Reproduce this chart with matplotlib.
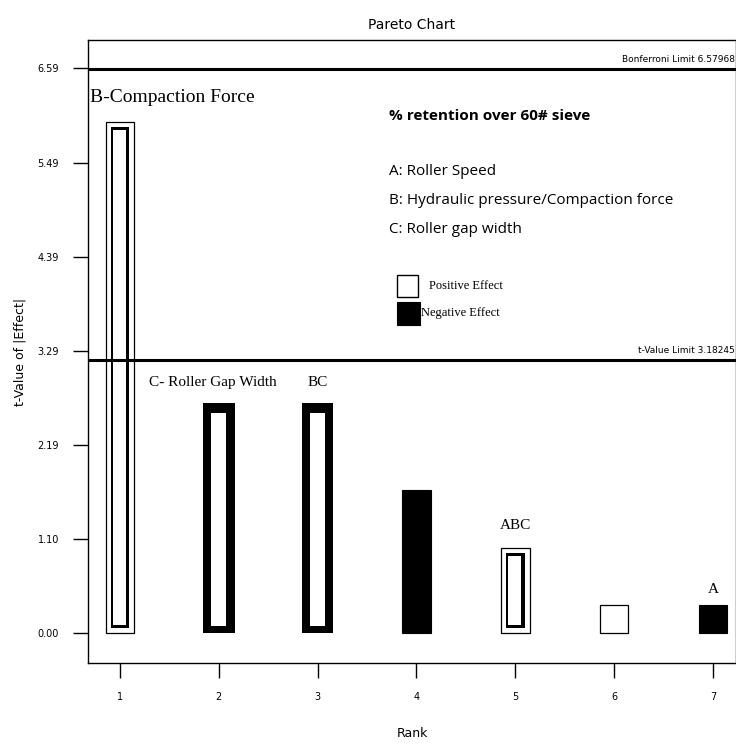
import matplotlib.pyplot as plt

# data
ranks = [1, 2, 3, 4, 5, 6, 7]
t_values = [5.96, 2.68, 2.68, 1.67, 0.99, 0.33, 0.33]
bar_styles = ['double', 'thick', 'thick', 'neg', 'double', 'pos', 'neg']
bar_labels = {1: 'B-Compaction Force', 5: 'ABC', 7: 'A'}
y_ticks = [0.00, 1.10, 2.19, 3.29, 4.39, 5.49, 6.59]
y_tick_labels = ['0.00', '1.10', '2.19', '3.29', '4.39', '5.49', '6.59']
bonferroni = 6.57968
t_limit = 3.18245
factors = ['A: Roller Speed', 'B: Hydraulic pressure/Compaction force', 'C: Roller gap width']

fig = plt.figure(figsize=(7.36, 7.45), dpi=100)
ax = fig.add_axes([88 / 736, 1 - 663 / 745, 1 - 88 / 736, (663 - 40) / 745])

w = 0.29
for r, t, s in zip(ranks, t_values, bar_styles):
    if s == 'double':
        ax.bar(r, t, width=w, color='white', edgecolor='black', linewidth=0.9, zorder=2)
        ax.bar(r, t - 0.12, bottom=0.06, width=0.19, color='black', zorder=3)
        ax.bar(r - 0.005, t - 0.19, bottom=0.095, width=0.13, color='white', zorder=4)
    elif s == 'thick':
        ax.bar(r, t, width=0.32, color='black', zorder=2)
        ax.bar(r, t - 0.19, bottom=0.08, width=0.15, color='white', zorder=3)
    elif s == 'neg':
        ax.bar(r, t, width=w, color='black', edgecolor='black', linewidth=0.8, zorder=2)
    else:
        ax.bar(r, t, width=w, color='white', edgecolor='black', linewidth=0.9, zorder=2)

# limit lines
ax.axhline(bonferroni, color='black', linewidth=2.2, zorder=5)
ax.axhline(t_limit, color='black', linewidth=2.2, zorder=5)
ax.text(7.225, bonferroni + 0.06, 'Bonferroni Limit %.5f' % bonferroni, ha='right', va='bottom',
        fontsize=6.5)
ax.text(7.225, t_limit + 0.06, 't-Value Limit %.5f' % t_limit, ha='right', va='bottom',
        fontsize=6.5)

# bar annotations (serif)
serif = 'Liberation Serif'
ax.text(0.70, 6.25, bar_labels[1], family=serif, fontsize=14, va='center', ha='left')
ax.text(1.29, 2.92, 'C- Roller Gap Width', family=serif, fontsize=11, va='center', ha='left')
ax.text(2.90, 2.92, 'BC', family=serif, fontsize=11, va='center', ha='left')
ax.text(5.0, 1.26, bar_labels[5], family=serif, fontsize=11, va='center', ha='center')
ax.text(7.0, 0.51, bar_labels[7], family=serif, fontsize=11, va='center', ha='center')

# legend block
ax.text(3.72, 6.03, '% retention over 60# sieve', fontsize=11, fontweight='bold',
        family='Open Sans', va='center')
for i, f in enumerate(factors):
    ax.text(3.72, 5.38 - i * 0.335, f, fontsize=11, family='Open Sans', va='center')
ax.bar(3.91, 0.26, bottom=3.92, width=0.21, color='white', edgecolor='black', linewidth=1.0)
ax.bar(3.92, 0.27, bottom=3.59, width=0.23, color='black', edgecolor='black', linewidth=0.8)
ax.text(4.13, 4.05, 'Positive Effect', family=serif, fontsize=9, va='center')
ax.text(4.05, 3.73, 'Negative Effect', family=serif, fontsize=9, va='center')

ax.set_xlim(0.676, 7.233)
ax.set_ylim(-0.35, 6.92)
ax.set_xticks(ranks)
ax.set_xticklabels([str(r) for r in ranks], fontsize=7)
ax.set_yticks(y_ticks)
ax.set_yticklabels(y_tick_labels, fontsize=7)
ax.tick_params(axis='both', direction='out', length=11, width=1.0, pad=10)
for sp in ax.spines.values():
    sp.set_linewidth(1.0)

ax.set_title('Pareto Chart', fontsize=10, pad=8)
ax.set_xlabel('Rank', fontsize=9, labelpad=18)
ax.set_ylabel('t-Value of |Effect|', fontsize=9, labelpad=8)

fig.savefig('out.png', dpi=100)
